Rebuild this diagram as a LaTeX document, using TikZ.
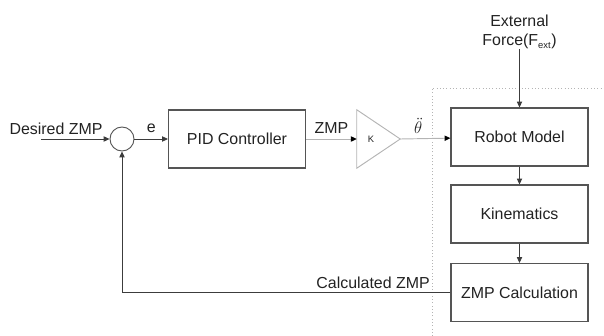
\documentclass[tikz,border=0pt]{standalone}
\usepackage{fontspec}
\setmainfont{Liberation Sans}
\usepackage{amsmath}
\usetikzlibrary{positioning, calc, arrows.meta}
\definecolor{boxgray}{HTML}{555555}
\definecolor{linegray}{HTML}{3C3C3C}
\definecolor{lightgray}{HTML}{B4B4B4}
\definecolor{txtgray}{HTML}{222222}
\tikzset{
  block/.style={draw=boxgray, line width=0.9pt, minimum width=4.11cm, minimum height=1.74cm, inner sep=0pt, text=txtgray},
  sumnode/.style={draw=boxgray, line width=0.8pt, circle, minimum size=0.72cm, inner sep=0pt},
  sig/.style={draw=linegray, line width=0.7pt, -{Triangle[length=5pt,width=4.5pt]}},
  lightsig/.style={draw=lightgray, line width=0.8pt, -{Triangle[length=5pt,width=4.5pt,color=black]}},
  lbl/.style={text=txtgray, inner sep=0pt}
}

\begin{document}
\begin{tikzpicture}[x=0.03cm, y=-0.03cm, font=\fontsize{13.6}{15.5}\selectfont]
    \useasboundingbox (0,0) rectangle (604,336);

    % Plant boundary (dotted)
    \draw[lightgray, line width=0.8pt, dotted] (432,336) -- (432,88) -- (604,88);

    % Summing junction and input
    \coordinate (in) at (41,139);
    \node[lbl] (desired) at (56,129) {Desired ZMP};
    \node[sumnode] (sum) at (122,139) {};
    \draw[sig] (in) -- (sum);

    % Controller
    \node[block] (pid) at (237,139) {PID Controller};
    \draw[sig] (sum) -- (pid) node[lbl, midway, above=5pt] (err) {e};

    % Gain triangle
    \node[minimum width=1.29cm, minimum height=1.74cm, inner sep=0pt] (gain) at (378.5,139) {};
    \draw[lightgray, line width=0.8pt] (gain.north west) -- (gain.east) -- (gain.south west) -- cycle;
    \node[lbl, font=\fontsize{8}{9}\selectfont] (k) at (371,139) {K};
    \draw[lightsig] (pid) -- (gain.west) node[lbl, midway, above=4pt] (zmp) {ZMP};

    % Robot blocks
    \node[block] (robot) at (519.5,137) {Robot Model};
    \node[block] (kin) at (519.5,214) {Kinematics};
    \node[block] (calc) at (519.5,292.5) {ZMP Calculation};
    \draw[lightsig] (gain.east) -- (robot) node[lbl, pos=0.36, above=4pt] (acc) {$\ddot{\theta}$};
    \draw[sig] (robot) -- (kin);
    \draw[sig] (kin) -- (calc);

    % External force
    \node[lbl, align=center] (force) at (519.5,32) {External\\[1pt]Force(F\textsubscript{\fontsize{8}{9}\selectfont ext})};
    \draw[sig] (force) -- (robot);

    % Feedback path
    \draw[sig] (calc.west) -- (calc.west -| sum) -- (sum);
    \node[lbl, anchor=south east] (fb) at (430,289) {Calculated ZMP};

\end{tikzpicture}
\end{document}
